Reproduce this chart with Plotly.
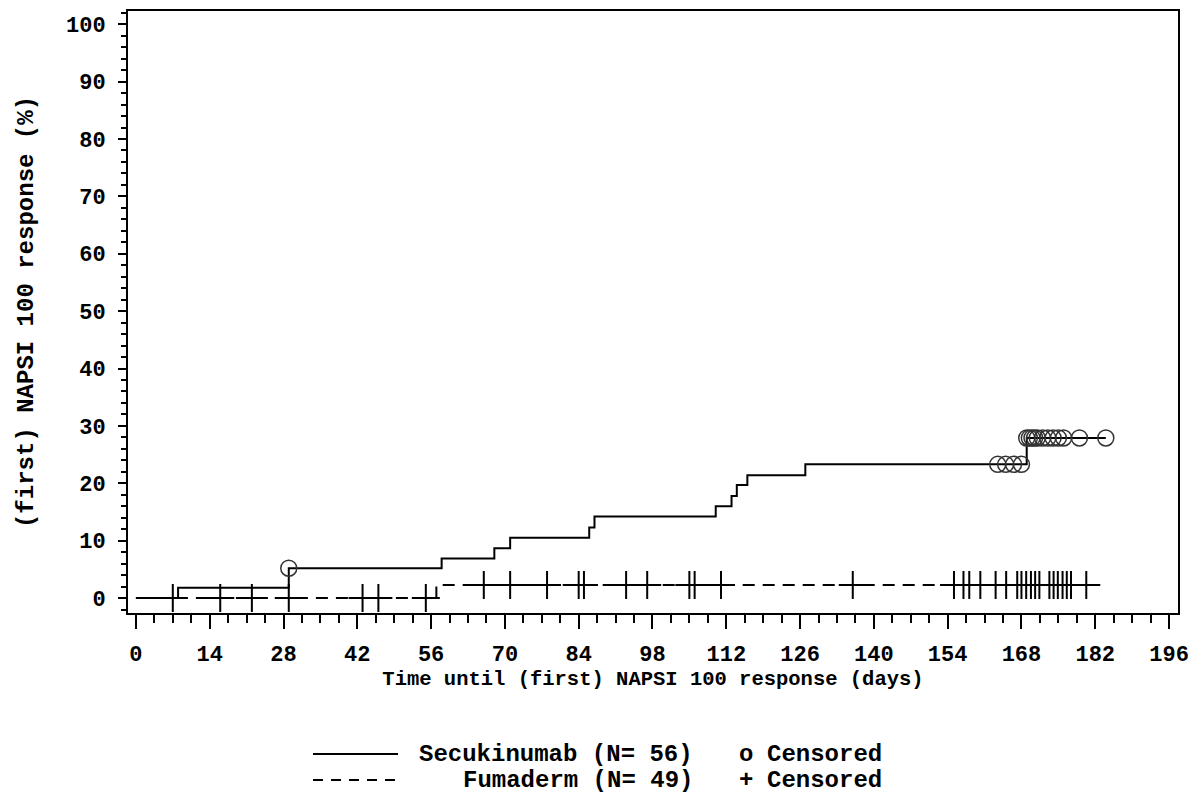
import plotly.graph_objects as go

# ---- data ----
# Secukinumab: event times (days) and cumulative response (%) after each step
secu_times = [0, 8, 29, 58, 68, 71, 86, 87, 110, 113, 114, 116, 127, 169]
secu_resp = [0, 1.8, 5.2, 6.9, 8.7, 10.5, 12.3, 14.2, 16.0, 17.8, 19.7, 21.4, 23.3, 27.9]
secu_censor = [29, 163.5, 165, 166.5, 168, 169, 169.5, 170, 170.5, 171, 172, 173, 174,
               175, 176, 179, 184]

# Fumaderm
fuma_times = [0, 57]
fuma_resp = [0, 2.3]
fuma_censor = [7, 16, 22, 29, 43, 46, 55, 66, 71, 78, 84, 85, 93, 97, 105, 106, 111, 136,
               155.2, 157, 158.1, 160.2, 163.1, 165.1, 167.2, 168, 168.9, 169.8, 170.6,
               171.4, 173.3, 174.1, 174.9, 175.8, 176.6, 177.4, 180.3]

x_ticks = list(range(0, 197, 14))
y_ticks = list(range(0, 101, 10))


def step_value(times, vals, t):
    v = vals[0]
    for ti, vi in zip(times, vals):
        if ti <= t:
            v = vi
    return v


FAM = "Liberation Mono"


def font(size):
    return dict(family=FAM, size=size, color="black", weight="bold")


fig = go.Figure()

secu_end = max(secu_censor)
fuma_end = max(fuma_censor)

fig.add_trace(go.Scatter(
    x=secu_times + [secu_end], y=secu_resp + [secu_resp[-1]],
    mode="lines", line=dict(color="black", width=2, shape="hv"), showlegend=False,
))
fig.add_trace(go.Scatter(
    x=fuma_times + [fuma_end], y=fuma_resp + [fuma_resp[-1]],
    mode="lines", line=dict(color="black", width=2, shape="hv", dash="12px,8px"),
    showlegend=False,
))
fig.add_trace(go.Scatter(
    x=secu_censor, y=[step_value(secu_times, secu_resp, t) for t in secu_censor],
    mode="markers",
    marker=dict(symbol="circle-open", size=16, color="#333333", line=dict(width=1.5)),
    showlegend=False,
))
fig.add_trace(go.Scatter(
    x=fuma_censor, y=[step_value(fuma_times, fuma_resp, t) for t in fuma_censor],
    mode="markers",
    marker=dict(symbol="cross-thin", size=20, color="black", line=dict(width=2, color="black")),
    showlegend=False,
))

axis_common = dict(
    showline=True, linecolor="black", linewidth=2, mirror=True,
    ticks="outside", tickcolor="black", tickwidth=2,
    showgrid=False, zeroline=False, tickfont=font(22), automargin=False,
)

fig.update_xaxes(
    range=[-1.5, 197.7], tickvals=x_ticks, ticktext=[str(v) for v in x_ticks], ticklen=14,
    ticklabelstandoff=6,
    minor=dict(dtick=3.5, tick0=0, ticks="outside", ticklen=8, tickcolor="black", tickwidth=2),
    title=dict(text="Time until (first) NAPSI 100 response (days)", font=font(20.5), standoff=2),
    **axis_common,
)
fig.update_yaxes(
    range=[-2.6, 102.3], tickvals=y_ticks, ticktext=[str(v) for v in y_ticks], ticklen=8,
    ticklabelstandoff=8,
    minor=dict(dtick=2, tick0=0, ticks="outside", ticklen=5, tickcolor="black", tickwidth=2),
    title=dict(text="(first) NAPSI 100 response (%)", font=font(24), standoff=26),
    **axis_common,
)

# ---- custom legend (positions in page pixels of the reference) ----
L = 128.0
W = 1050.0
B = 613.0
H = 602.0


def px(x):
    return (x - L) / W


def py(y):
    return (B - y) / H


fig.add_shape(type="line", xref="paper", yref="paper", x0=px(313), x1=px(398),
              y0=py(754), y1=py(754), line=dict(color="black", width=2))
fig.add_shape(type="line", xref="paper", yref="paper", x0=px(313), x1=px(398),
              y0=py(780), y1=py(780), line=dict(color="black", width=2, dash="10px,8px"))

legend_items = [
    ("Secukinumab (N= 56)", 695, 754, "right"),
    ("Fumaderm (N= 49)", 695, 780, "right"),
    ("o", 746, 754, "center"),
    ("+", 746, 780, "center"),
    ("Censored", 765, 754, "left"),
    ("Censored", 765, 780, "left"),
]
for txt, xx, yy, anc in legend_items:
    fig.add_annotation(text=txt, xref="paper", yref="paper", x=px(xx), y=py(yy),
                       xanchor=anc, yanchor="middle", showarrow=False, font=font(24))

# the page adds an 8px body margin, so margins are shifted by 8px to compensate
fig.update_layout(
    width=1203, height=800,
    margin=dict(l=120, r=33, t=3, b=195),
    paper_bgcolor="white", plot_bgcolor="white",
    showlegend=False,
)

fig.write_html("out.html")
